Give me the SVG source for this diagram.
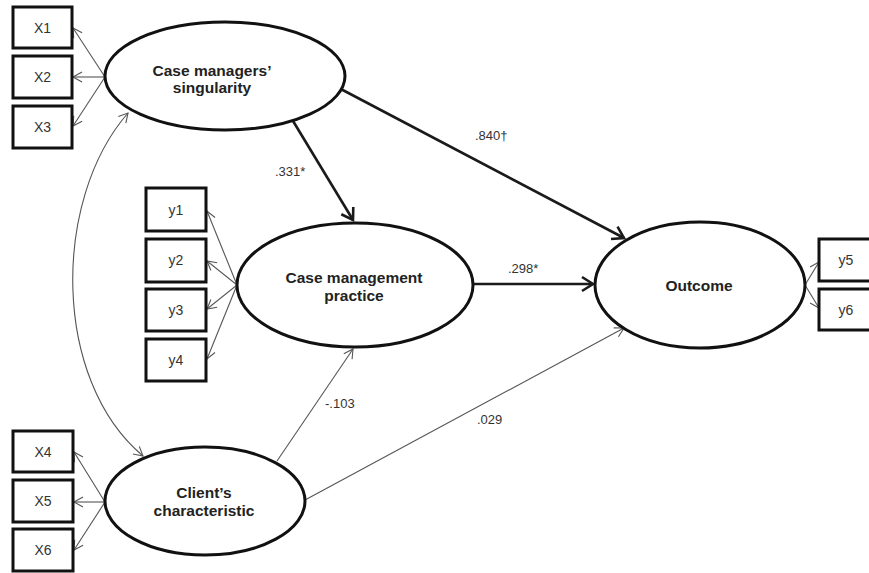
<svg xmlns="http://www.w3.org/2000/svg" width="869" height="573" viewBox="0 0 869 573">
<style>
.ell{fill:#fff;stroke:#111;stroke-width:3}
.box{fill:#fff;stroke:#111;stroke-width:3}
.lbl{font-family:"Liberation Sans",Arial,sans-serif;font-size:14px;fill:#333;text-anchor:middle}
.nt{font-family:"Liberation Sans",Arial,sans-serif;font-size:15.5px;font-weight:bold;fill:#222;text-anchor:middle}
.coef{font-family:"Liberation Sans",Arial,sans-serif;font-size:13px;fill:#333}
.thick{stroke:#1a1a1a;stroke-width:2.6;fill:none;marker-end:url(#ah)}
.thin{stroke:#555;stroke-width:1.1;fill:none;marker-end:url(#at)}
</style>
<defs>
<marker id="ah" markerUnits="userSpaceOnUse" markerWidth="18" markerHeight="18" refX="13" refY="8" orient="auto" overflow="visible">
<path d="M2,1 L13,8 L2,15" fill="none" stroke="#1a1a1a" stroke-width="2.6"/>
</marker>
<marker id="at" markerUnits="userSpaceOnUse" markerWidth="14" markerHeight="14" refX="10" refY="6" orient="auto-start-reverse" overflow="visible">
<path d="M1,1 L10,6 L1,11" fill="none" stroke="#555" stroke-width="1.1"/>
</marker>
</defs>

<g id="connectors">
<!-- indicators -->
<line class="thin" x1="105" y1="77" x2="73" y2="28"/>
<line class="thin" x1="105" y1="77" x2="73" y2="77"/>
<line class="thin" x1="105" y1="77" x2="73" y2="126"/>
<line class="thin" x1="237" y1="285" x2="207" y2="211"/>
<line class="thin" x1="237" y1="285" x2="207" y2="261"/>
<line class="thin" x1="237" y1="285" x2="207" y2="309"/>
<line class="thin" x1="237" y1="285" x2="207" y2="359"/>
<line class="thin" x1="105" y1="502" x2="74" y2="452"/>
<line class="thin" x1="105" y1="502" x2="74" y2="502"/>
<line class="thin" x1="105" y1="502" x2="74" y2="550"/>
<line class="thin" x1="805" y1="285" x2="819" y2="262"/>
<line class="thin" x1="805" y1="285" x2="819" y2="308"/>
<!-- covariance -->
<path class="thin" d="M128,113 C52,200 52,380 143,456" style="marker-start:url(#at)"/>
<!-- structural -->
<line class="thick" x1="290" y1="116" x2="353" y2="220"/>
<line class="thick" x1="337" y1="87" x2="624" y2="238"/>
<line class="thick" x1="472" y1="284" x2="593" y2="284"/>
<line class="thin" x1="277" y1="461" x2="353" y2="349"/>
<line class="thin" x1="305" y1="500" x2="624" y2="328"/>
</g>

<g id="labels">
<text class="coef" x="275" y="176">.331*</text>
<text class="coef" x="475" y="140">.840†</text>
<text class="coef" x="508" y="273">.298*</text>
<text class="coef" x="325" y="408">-.103</text>
<text class="coef" x="477" y="424">.029</text>
</g>

<g id="X1"><rect class="box" x="13" y="7" width="59" height="41"/><text class="lbl" x="42.5" y="33">X1</text></g>
<g id="X2"><rect class="box" x="13" y="56" width="59" height="42"/><text class="lbl" x="42.5" y="82">X2</text></g>
<g id="X3"><rect class="box" x="13" y="106" width="59" height="42"/><text class="lbl" x="42.5" y="132">X3</text></g>

<g id="y1"><rect class="box" x="146" y="188" width="60" height="43"/><text class="lbl" x="176" y="215">y1</text></g>
<g id="y2"><rect class="box" x="146" y="239" width="60" height="43"/><text class="lbl" x="176" y="265">y2</text></g>
<g id="y3"><rect class="box" x="146" y="289" width="60" height="42"/><text class="lbl" x="176" y="315">y3</text></g>
<g id="y4"><rect class="box" x="146" y="339" width="60" height="42"/><text class="lbl" x="176" y="365">y4</text></g>

<g id="X4"><rect class="box" x="13" y="431" width="60" height="41"/><text class="lbl" x="43" y="457">X4</text></g>
<g id="X5"><rect class="box" x="13" y="480" width="60" height="42"/><text class="lbl" x="43" y="506">X5</text></g>
<g id="X6"><rect class="box" x="13" y="529" width="60" height="42"/><text class="lbl" x="43" y="555">X6</text></g>

<g id="y5"><rect class="box" x="819" y="239" width="60" height="42"/><text class="lbl" x="846" y="265">y5</text></g>
<g id="y6"><rect class="box" x="819" y="289" width="60" height="41"/><text class="lbl" x="846" y="315">y6</text></g>

<g id="singularity"><ellipse class="ell" cx="225" cy="76" rx="120" ry="54"/><text class="nt" x="212" y="76">Case managers’</text><text class="nt" x="212" y="93">singularity</text></g>
<g id="practice"><ellipse class="ell" cx="355" cy="285" rx="118" ry="62"/><text class="nt" x="354" y="283">Case management</text><text class="nt" x="354" y="301">practice</text></g>
<g id="client"><ellipse class="ell" cx="205" cy="501" rx="100" ry="54"/><text class="nt" x="204" y="498">Client’s</text><text class="nt" x="204" y="516">characteristic</text></g>
<g id="outcome"><ellipse class="ell" cx="700" cy="285" rx="105" ry="63"/><text class="nt" x="699" y="291">Outcome</text></g>
</svg>
